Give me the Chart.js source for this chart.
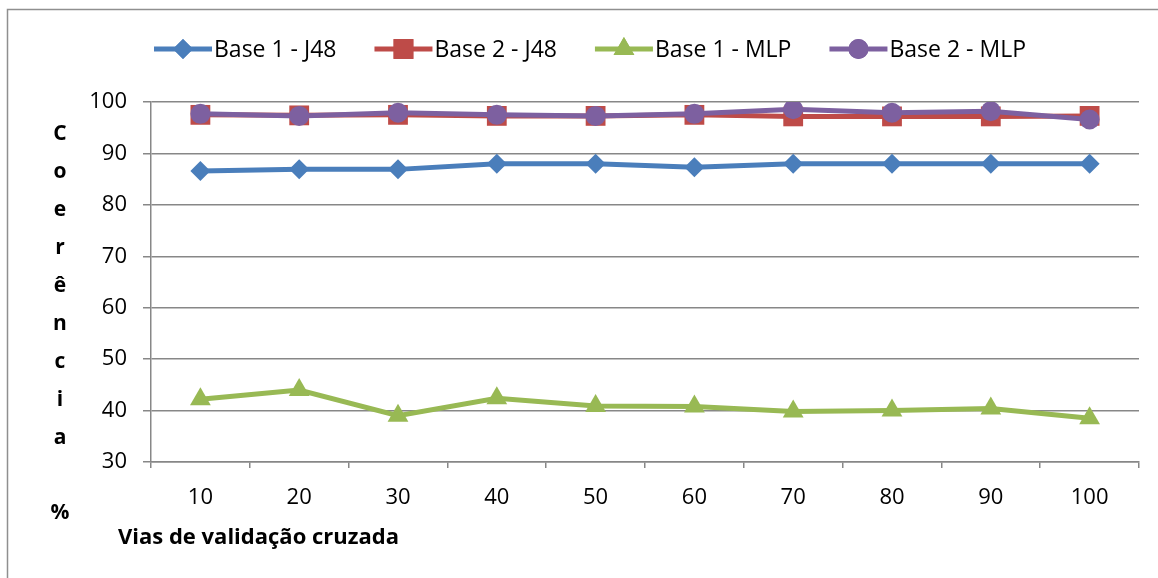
<!DOCTYPE html>
<html>
<head>
<meta charset="utf-8">
<script src="https://cdn.jsdelivr.net/npm/chart.js@4.4.0/dist/chart.umd.min.js"></script>
<style>
  html, body { margin: 0; padding: 0; background: #fff; }
  #wrap { width: 1158px; height: 578px; position: relative; }
</style>
</head>
<body>
<div id="wrap"><canvas id="c" width="1158" height="578"></canvas></div>
<script>
// Folds of cross-validation (x categories)
const categories = ['10', '20', '30', '40', '50', '60', '70', '80', '90', '100'];

// Coherence (%) per configuration
const base1J48 = [86.6, 86.9, 86.9, 88.0, 88.0, 87.3, 88.0, 88.0, 88.0, 88.0];
const base2J48 = [97.5, 97.4, 97.5, 97.3, 97.3, 97.5, 97.2, 97.2, 97.2, 97.3];
const base1MLP = [42.2, 44.0, 39.0, 42.4, 40.9, 40.8, 39.8, 40.0, 40.4, 38.5];
const base2MLP = [97.7, 97.3, 97.9, 97.5, 97.3, 97.7, 98.6, 97.9, 98.2, 96.6];

const seriesNames = ['Base 1 - J48', 'Base 2 - J48', 'Base 1 - MLP', 'Base 2 - MLP'];
const yTitleLetters = ['C', 'o', 'e', 'r', 'ê', 'n', 'c', 'i', 'a'];
const yTitleUnit = '%';
const xTitle = 'Vias de validação cruzada';

const FONT = '"Open Sans", "Liberation Sans", sans-serif';
const GRID = '#878787';

function ds(label, data, color, style, radius, order) {
  return {
    label, data, order,
    borderColor: color, backgroundColor: color,
    pointBackgroundColor: color, pointBorderColor: color,
    borderWidth: 5, pointStyle: style, pointRadius: radius,
    pointHoverRadius: radius, pointBorderWidth: 0,
    tension: 0, fill: false
  };
}

const datasets = [
  ds(seriesNames[0], base1J48, '#4A7EBB', 'rectRot', 10, 3),
  ds(seriesNames[1], base2J48, '#BE4B48', 'rect', 14, 1),
  ds(seriesNames[2], base1MLP, '#98B954', 'triangle', 12, 2),
  ds(seriesNames[3], base2MLP, '#7D60A0', 'circle', 10, 0)
];

// Outer frame, stacked y title, x title and the legend row
const decorations = {
  id: 'decorations',
  beforeDraw(chart) {
    const ctx = chart.ctx;
    ctx.save();
    ctx.strokeStyle = '#8f8f8f';
    ctx.lineWidth = 1.5;
    ctx.strokeRect(7.5, 9.5, 1170, 600);
    ctx.restore();
  },
  afterDraw(chart) {
    const ctx = chart.ctx;
    ctx.save();
    ctx.fillStyle = '#000';
    ctx.textAlign = 'center';
    ctx.textBaseline = 'middle';
    ctx.font = 'bold 21px ' + FONT;
    yTitleLetters.forEach((ch, i) => ctx.fillText(ch, 60, 134 + i * 38));
    ctx.fillText(yTitleUnit, 60, 513);

    ctx.textAlign = 'left';
    ctx.font = 'bold 22px ' + FONT;
    ctx.fillText(xTitle, 118, 538);

    // legend
    ctx.font = '23px ' + FONT;
    let x = 154;
    const y = 49;
    chart.data.datasets.forEach((d) => {
      ctx.strokeStyle = d.borderColor;
      ctx.lineWidth = 5;
      ctx.beginPath();
      ctx.moveTo(x, y);
      ctx.lineTo(x + 58, y);
      ctx.stroke();
      ctx.fillStyle = d.borderColor;
      ctx.beginPath();
      Chart.helpers.drawPoint(ctx, {
        pointStyle: d.pointStyle, radius: d.pointRadius, borderWidth: 0, rotation: 0
      }, x + 29, y);
      ctx.fill();
      ctx.fillStyle = '#000';
      ctx.fillText(d.label, x + 60, y + 1);
      x += 60 + ctx.measureText(d.label).width + 38;
    });
    ctx.restore();
  }
};

new Chart(document.getElementById('c'), {
  type: 'line',
  data: { labels: categories, datasets },
  plugins: [decorations],
  options: {
    responsive: false,
    animation: false,
    layout: { padding: { left: 0, top: 102, right: 19, bottom: 0 } },
    plugins: { legend: { display: false }, tooltip: { enabled: false } },
    scales: {
      x: {
        offset: true,
        afterFit(scale) { scale.height = 116; },
        grid: { offset: true, drawOnChartArea: false, drawTicks: true, tickLength: 6, color: GRID, lineWidth: 1.5 },
        border: { display: true, color: GRID, width: 1.5 },
        ticks: { color: '#000', font: { family: FONT, size: 22 }, padding: 17, maxRotation: 0 }
      },
      y: {
        min: 30, max: 100,
        afterFit(scale) { scale.width = 151; },
        grid: { color: GRID, lineWidth: 1.5, tickLength: 8, drawTicks: true },
        border: { display: true, color: GRID, width: 1.5 },
        ticks: { stepSize: 10, color: '#000', font: { family: FONT, size: 22 }, padding: 16 }
      }
    }
  }
});
</script>
</body>
</html>
